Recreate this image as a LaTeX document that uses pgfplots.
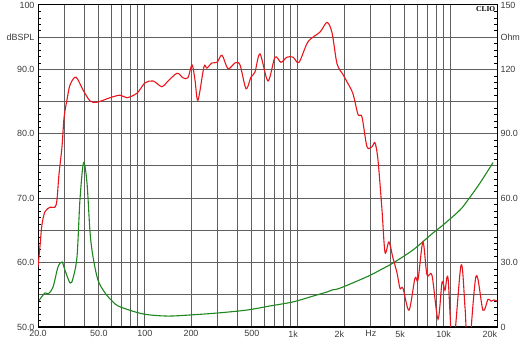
\documentclass[border=0pt]{standalone}
\usepackage{pgfplots}
\pgfplotsset{compat=1.18}
\usepackage{fontspec}
\setmainfont{Liberation Sans}
\newfontfamily\cliofont{Liberation Serif}
\definecolor{gridc}{RGB}{95,95,95}
\definecolor{spl}{RGB}{232,22,28}
\definecolor{imp}{RGB}{28,135,28}
\definecolor{lab}{RGB}{60,60,60}
\newcommand\rl[1]{\makebox[0pt][r]{#1}}
\begin{document}
\begin{tikzpicture}
% Impedance axis (right), carries the grid and the x labels
\begin{axis}[
  at={(0,0)}, anchor=south west,
  scale only axis, width=459bp, height=322bp,
  xmode=log, xmin=20, xmax=20000, ymin=0, ymax=150,
  xtick={20,30,40,50,60,70,80,90,100,200,300,400,500,600,700,800,900,1000,2000,3000,4000,5000,6000,7000,8000,9000,10000,20000},
  xticklabels={20.0,,,50.0,,,,,100,200,,,500,,,,,\rl{1k},\rl{2k},Hz,,\rl{5k},,,,,\rl{10k},\rl{20k}},
  minor x tick num=0,
  ytick={0,15,...,150},
  yticklabels={0,,30.0,,60.0,,90.0,,120,Ohm,150},
  minor y tick num=4,
  xtick pos=bottom, ytick pos=right,
  tick align=inside,
  grid=major,
  major grid style={gridc, line width=1bp},
  major tick length=0pt, minor tick length=3bp,
  minor tick style={black, line width=0.6bp},
  axis line style={black, line width=1bp},
  tick label style={font=\fontsize{9}{10}\selectfont, text=lab},
]
\addplot[imp, line width=1.1bp, smooth] coordinates {
(20,11.7) (22.2,15.9) (23.3,15.4) (25.1,18.7) (27.0,27.9) (28.7,30.3)
(30.0,26.5) (32.4,20.5) (33.9,22.8) (36.0,33) (37.6,59.2) (39.7,76.6)
(41.8,67.1) (43.8,43.8) (45.8,32.6) (49.3,21.9) (54.8,15.9) (61.8,11.7)
(68.7,9.4) (97,6.1) (139,5.1) (197,5.6) (296,6.5) (464,7.9)
(656,9.8) (929,11.7) (1254,14.4) (1560,16.4) (1680,17.3) (1884,18.1)
(2826,23.4) (3438,26.5) (4180,29.8) (5650,35.9) (7632,43.8) (8872,47.5)
(11460,54.5) (12920,59.2) (15490,67.1) (18840,76.6)
};
\node[anchor=north east, font=\cliofont\bfseries\fontsize{7.5}{8}\selectfont, inner sep=1.5bp] at (rel axis cs:1,1) {CLIO};
\end{axis}
% SPL axis (left)
\begin{axis}[
  at={(0,0)}, anchor=south west,
  scale only axis, width=459bp, height=322bp,
  xmode=log, xmin=20, xmax=20000, ymin=50, ymax=100,
  xtick=\empty,
  ytick={50,55,...,100},
  yticklabels={50.0,,60.0,,70.0,,80.0,,90.0,dBSPL,100},
  minor y tick num=4,
  ytick pos=left,
  tick align=inside,
  major tick length=0pt, minor tick length=3bp,
  minor tick style={black, line width=0.6bp},
  axis line style={black, line width=1bp},
  tick label style={font=\fontsize{9}{10}\selectfont, text=lab},
]
\addplot[spl, line width=1.1bp, smooth] coordinates {
(20,59.3) (20.6,62.5) (21.2,65.8) (22.2,67.9) (24.0,68.6) (25.8,68.6)
(26.6,69.7) (27.4,73.6) (28.7,78.0) (29.6,82.5) (30.9,85.2) (32.4,87.6)
(35.4,88.8) (39.4,86.8) (43.8,85.1) (48.6,84.9) (59.1,85.6) (68.7,86.0)
(76.3,85.6) (88.7,86.3) (100,87.9) (113,88.2) (129,87.3) (139,88.0)
(162,89.4) (177,88.7) (191,88.7) (203,90.7) (212,88.5) (222,85.2)
(243,90.4) (254,90.2) (274,91.0) (296,91.1) (319,92.2) (349,90.1)
(388,91.0) (418,90.7) (458,87.0) (493,88.8) (524,89.6) (565,92.4)
(637,88.2) (708,91.9) (775,91.1) (848,91.9) (929,91.9) (1016,91.1)
(1164,94.3) (1394,95.8) (1549,97.3) (1670,95.7) (1800,90.9) (1970,89.2)
(2100,88.0) (2290,86.2) (2470,83.0) (2622,82.6) (2826,78.0) (3048,78.0)
(3190,78.6) (3336,75.9) (3542,68.2) (3707,61.6) (3936,63.2) (4180,60.7)
(4440,58.4) (4645,56.0) (4860,56.0) (5320,52.6) (5820,57.6) (6090,57.3)
(6560,63.2) (6970,58.1) (7520,58.0) (8230,51.2) (8750,57.0) (9140,55.7)
(9570,57.6) (10300,46.5) (11640,59.6) (12360,53.0) (13000,45.5) (14590,57.9)
(16190,52.6) (17470,54.3) (18280,54.0) (19100,54.2) (20000,54.0)
};
\end{axis}
\pgfresetboundingbox
\path[use as bounding box] (-38bp,-18bp) rectangle (492bp,327bp);
\end{tikzpicture}
\end{document}
